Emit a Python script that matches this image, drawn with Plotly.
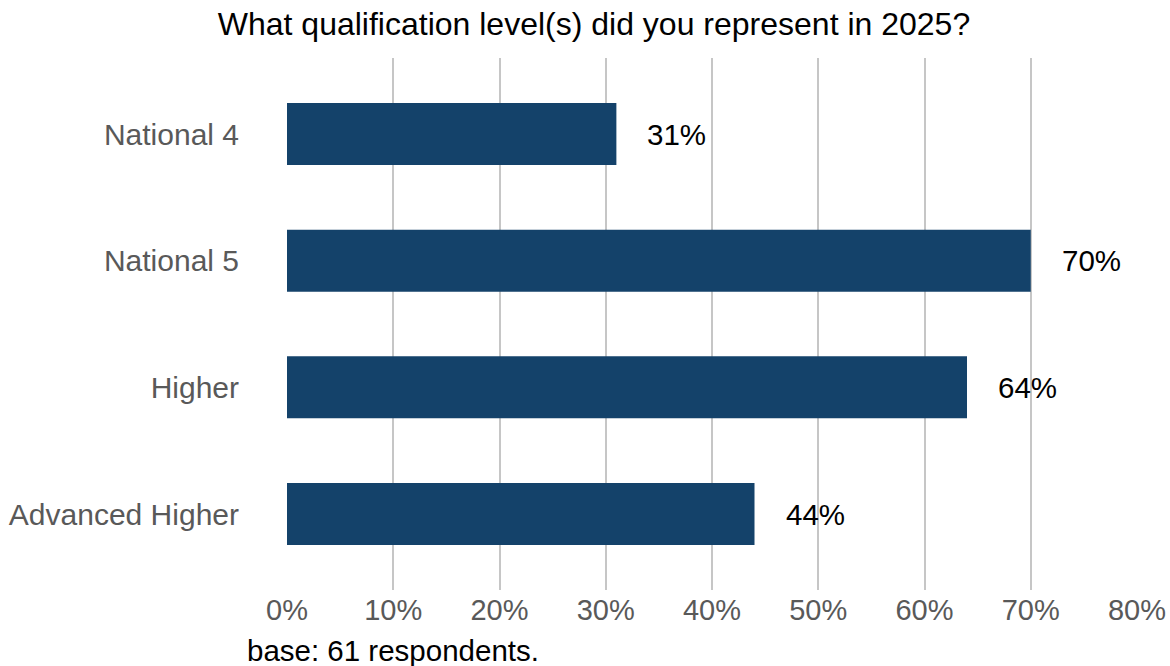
import plotly.graph_objects as go

categories = ["National 4", "National 5", "Higher", "Advanced Higher"]
values = [0.31, 0.70, 0.64, 0.44]
value_labels = ["31%", "70%", "64%", "44%"]
tick_vals = [0, 0.1, 0.2, 0.3, 0.4, 0.5, 0.6, 0.7, 0.8]
tick_text = ["0%", "10%", "20%", "30%", "40%", "50%", "60%", "70%", "80%"]
title_text = "What qualification level(s) did you represent in 2025?"
caption_text = "base: 61 respondents."

FONT = "Liberation Sans, Arial, sans-serif"
BAR = "#14426A"

fig = go.Figure()
fig.add_trace(go.Bar(
    x=values, y=categories, orientation="h",
    marker=dict(color=BAR, line=dict(width=0)),
    width=0.49, hoverinfo="skip",
))

for v, c, t in zip(values, categories, value_labels):
    fig.add_annotation(x=v, y=c, text=t, showarrow=False, xanchor="left",
                       yanchor="middle", xshift=29,
                       font=dict(family=FONT, size=29.5, color="#000000"))

fig.add_annotation(x=(245 - 287) / 850, y=(590 - 650) / 532, xref="paper", yref="paper",
                   text=caption_text, showarrow=False, xanchor="left", yanchor="middle",
                   font=dict(family=FONT, size=29.5, color="#000000"))

fig.update_layout(
    width=1170, height=666,
    margin=dict(l=287, r=33, t=58, b=76, autoexpand=False),
    paper_bgcolor="white", plot_bgcolor="white",
    showlegend=False,
    title=dict(text=title_text, x=594 / 1170, xref="container", xanchor="center",
               y=1 - 24 / 666, yref="container", yanchor="middle",
               font=dict(family=FONT, size=32, color="#000000")),
    xaxis=dict(range=[0, 0.8], tickvals=tick_vals, ticktext=tick_text,
               showgrid=True, gridcolor="#C6C6C6", gridwidth=2.2,
               zeroline=False, showline=False, ticks="", automargin=False,
               tickfont=dict(family=FONT, size=29, color="#595959")),
    yaxis=dict(categoryorder="array", categoryarray=categories,
               range=[3.6, -0.6], showgrid=False, zeroline=False, showline=False,
               ticks="", ticklabelstandoff=47, automargin=False,
               tickfont=dict(family=FONT, size=30, color="#595959")),
)

fig.write_html("out.html")
